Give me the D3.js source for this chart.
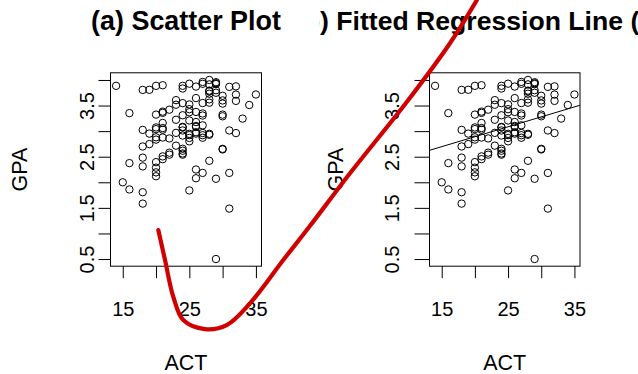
<!DOCTYPE html>
<html>
<head>
<meta charset="utf-8">
<script src="https://cdn.jsdelivr.net/npm/d3@7"></script>
<style>
  html, body { margin: 0; padding: 0; background: #fff; }
  svg { display: block; font-family: "Liberation Sans", Arial, Helvetica, sans-serif; }
</style>
</head>
<body>
<svg id="chart" width="638" height="374"></svg>
<script>
// ---- Data (ACT score vs GPA, 120 students) ----
const act = [21,14,28,22,21,31,32,27,29,26,24,30,24,24,33,27,25,31,25,20,
             24,21,28,27,28,26,28,22,26,21,25,16,28,26,22,24,21,30,27,26,
             26,30,24,26,29,24,31,15,19,18,27,16,27,26,24,30,21,20,30,29,
             25,23,25,23,30,21,24,32,18,23,20,23,18,18,29,20,23,26,28,34,
             20,20,26,32,25,27,27,29,19,21,24,27,25,18,29,24,27,21,19,18,
             25,18,20,32,24,35,25,28,28,25,22,30,20,20,31,20,29,28,16,28];
const gpa = [3.897,3.885,3.778,2.540,3.028,3.865,2.962,3.961,0.500,3.178,
             3.310,3.538,3.083,3.013,3.245,2.963,3.522,3.013,2.947,2.118,
             2.563,3.357,3.731,3.925,3.556,3.101,2.420,2.579,3.871,3.060,
             3.927,2.375,2.929,3.375,2.857,3.072,3.381,3.290,3.549,3.646,
             2.978,2.654,2.540,2.250,2.069,2.617,2.183,2.000,2.952,3.806,
             2.871,3.352,3.305,2.952,3.547,3.691,3.160,2.194,3.323,3.936,
             2.922,2.716,3.370,3.606,2.642,2.452,2.655,3.714,1.806,3.516,
             3.039,2.966,2.482,2.700,3.920,2.834,3.222,3.084,4.000,3.511,
             3.323,3.072,2.079,3.875,3.208,2.920,3.345,3.956,3.808,2.506,
             3.886,2.183,3.429,3.024,3.750,3.833,3.113,2.875,2.747,2.311,
             1.841,1.583,2.879,3.591,2.914,3.716,2.800,3.621,3.792,2.867,
             3.419,3.600,2.394,2.286,1.486,3.885,3.800,3.914,1.860,2.948];

const xTicks = [15, 20, 25, 30, 35];
const xTickLabels = ["15", "", "25", "", "35"];
const yTicks = [0.5, 1.0, 1.5, 2.0, 2.5, 3.0, 3.5, 4.0];
const yTickLabels = ["0.5", "", "1.5", "", "2.5", "", "3.5", ""];
const titles = ["(a) Scatter Plot", "(b) Fitted Regression Line (OLS)"];
const xLabel = "ACT";
const yLabel = "GPA";

// Hand-drawn red annotation stroke, expressed in panel (a) data units (ACT, GPA)
const strokeAct = [20.34, 21.35, 22.59, 24.09, 27.35, 30.61, 34.11, 39.11, 43.02, 49.13, 57.89, 64.15, 68.2];
const strokeGpa = [1.067, 0.48, -0.237, -0.693, -0.869, -0.791, -0.366, 0.48, 1.13, 2.176, 3.609, 4.718, 5.564];

// ---- Layout ----
const svg = d3.select("#chart");
const panels = [
  { x0: 110.5, x1: 261.5, yTickLen: 12, yLabOff: 16.2, yTitleX: 26.7, clipX0: 0,   clipX1: 319, titleAnchor: "middle", titleX: 186, titleSize: 26.9 },
  { x0: 429.5, x1: 580.0, yTickLen: 15, yLabOff: 31.0, yTitleX: 343.3, clipX0: 319, clipX1: 638, titleAnchor: "start", titleX: 295, titleSize: 26.6, fit: true }
];
const yTop = 72.8, yBot = 266.2;

// R-style 4% range extension
const xe = d3.extent(act), ye = d3.extent(gpa);
const xPad = (xe[1] - xe[0]) * 0.04, yPad = (ye[1] - ye[0]) * 0.04;
const xDom = [xe[0] - xPad, xe[1] + xPad];
const yDom = [ye[0] - yPad, ye[1] + yPad];

// OLS fit
const mx = d3.mean(act), my = d3.mean(gpa);
let sxy = 0, sxx = 0;
act.forEach((a, i) => { sxy += (a - mx) * (gpa[i] - my); sxx += (a - mx) * (a - mx); });
const b1 = sxy / sxx, b0 = my - b1 * mx;

const font = '"Liberation Sans", Arial, Helvetica, sans-serif';
let leftScales = null;

panels.forEach((p, pi) => {
  const x = d3.scaleLinear().domain(xDom).range([p.x0, p.x1]);
  const y = d3.scaleLinear().domain(yDom).range([yBot, yTop]);
  if (pi === 0) leftScales = { x, y };

  // clip for title (figure region)
  const cid = "fig" + pi;
  svg.append("clipPath").attr("id", cid)
    .append("rect").attr("x", p.clipX0).attr("y", 0)
    .attr("width", p.clipX1 - p.clipX0).attr("height", 374);

  svg.append("text")
    .attr("clip-path", `url(#${cid})`)
    .attr("x", p.titleX).attr("y", 30)
    .attr("text-anchor", p.titleAnchor)
    .style("font-family", font).style("font-weight", "bold").style("font-size", p.titleSize + "px")
    .attr("fill", "#000")
    .text(titles[pi]);

  // points
  svg.append("g").selectAll("circle").data(act).join("circle")
    .attr("cx", (d) => x(d))
    .attr("cy", (d, i) => y(gpa[i]))
    .attr("r", 3.7)
    .attr("fill", "none").attr("stroke", "#000").attr("stroke-width", 1);

  // regression line
  if (p.fit) {
    svg.append("line")
      .attr("x1", x(xDom[0])).attr("y1", y(b0 + b1 * xDom[0]))
      .attr("x2", x(xDom[1])).attr("y2", y(b0 + b1 * xDom[1]))
      .attr("stroke", "#000").attr("stroke-width", 1);
  }

  // box
  svg.append("rect")
    .attr("x", p.x0).attr("y", yTop)
    .attr("width", p.x1 - p.x0).attr("height", yBot - yTop)
    .attr("fill", "none").attr("stroke", "#000").attr("stroke-width", 1);

  // x axis
  const gx = svg.append("g").attr("transform", `translate(0,${yBot})`)
    .call(d3.axisBottom(x).tickValues(xTicks).tickSize(12).tickSizeOuter(0)
      .tickFormat((d, i) => xTickLabels[i]));
  gx.select(".domain").remove();
  gx.selectAll(".tick line").attr("stroke", "#000");
  gx.selectAll(".tick text")
    .attr("y", 49.8).attr("dy", null)
    .style("font-family", font).style("font-size", "20px").attr("fill", "#000");

  // y axis
  const gy = svg.append("g").attr("transform", `translate(${p.x0},0)`)
    .call(d3.axisLeft(y).tickValues(yTicks).tickSize(p.yTickLen).tickSizeOuter(0)
      .tickFormat((d, i) => yTickLabels[i]));
  gy.select(".domain").remove();
  gy.selectAll(".tick line").attr("stroke", "#000");
  gy.selectAll(".tick text")
    .attr("x", null).attr("dy", null)
    .attr("transform", `translate(${-p.yLabOff},0) rotate(-90)`)
    .attr("text-anchor", "middle")
    .style("font-family", font).style("font-size", "20px").attr("fill", "#000");

  // axis titles
  svg.append("text")
    .attr("x", (p.x0 + p.x1) / 2).attr("y", 370)
    .attr("text-anchor", "middle")
    .style("font-family", font).style("font-size", "21.5px").attr("fill", "#000")
    .text(xLabel);
  svg.append("text")
    .attr("transform", `translate(${p.yTitleX},${(yTop + yBot) / 2}) rotate(-90)`)
    .attr("text-anchor", "middle")
    .style("font-family", font).style("font-size", "21.5px").attr("fill", "#000")
    .text(yLabel);
});

// red annotation stroke on top
const strokePts = strokeAct.map((a, i) => [leftScales.x(a), leftScales.y(strokeGpa[i])]);
svg.append("path")
  .attr("d", d3.line().curve(d3.curveCatmullRom.alpha(0.5))(strokePts))
  .attr("fill", "none").attr("stroke", "#d00000")
  .attr("stroke-width", 4.2).attr("stroke-linecap", "round").attr("stroke-linejoin", "round");
</script>
</body>
</html>
